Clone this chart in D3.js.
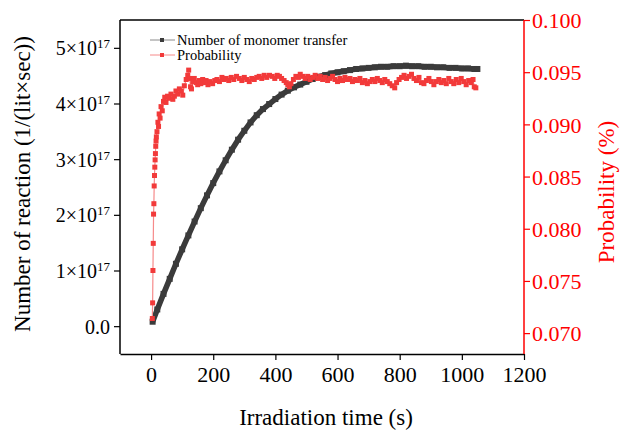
<!DOCTYPE html>
<html>
<head>
<meta charset="utf-8">
<script src="https://cdn.jsdelivr.net/npm/d3@7/dist/d3.min.js"></script>
<style>
  html, body { margin: 0; padding: 0; background: #fff; }
  svg { display: block; }
  text { font-family: "Liberation Serif", "Times New Roman", serif; }
</style>
</head>
<body>
<svg id="chart" width="620" height="433"></svg>
<script>
// ---------- data ----------
const xTicks = [0, 200, 400, 600, 800, 1000, 1200];
const leftTicks = [0, 1e17, 2e17, 3e17, 4e17, 5e17];
const leftTickMantissa = ["0.0", "1", "2", "3", "4", "5"];
const rightTicks = [0.070, 0.075, 0.080, 0.085, 0.090, 0.095, 0.100];

const seriesNames = ["Number of monomer transfer", "Probability"];

// Number of monomer transfer (1/(lit×sec)), in units of 1e17
const monoT = [5, 20, 40, 60, 80, 100, 120, 140, 160, 180, 200, 220, 240, 260, 280, 300,
  320, 340, 360, 380, 400, 420, 440, 460, 480, 500, 520, 540, 560, 580, 600, 620, 640,
  660, 680, 700, 720, 740, 760, 780, 800, 820, 840, 860, 880, 900, 920, 940, 960, 980,
  1000, 1020, 1040, 1050];
const monoV = [0.08, 0.30, 0.58, 0.85, 1.12, 1.38, 1.63, 1.88, 2.12, 2.35, 2.57, 2.78,
  2.98, 3.17, 3.35, 3.51, 3.66, 3.79, 3.90, 3.99, 4.08, 4.16, 4.23, 4.29, 4.34, 4.39,
  4.44, 4.48, 4.51, 4.54, 4.56, 4.58, 4.60, 4.62, 4.63, 4.64, 4.65, 4.66, 4.66, 4.67,
  4.67, 4.68, 4.67, 4.67, 4.66, 4.66, 4.65, 4.65, 4.64, 4.64, 4.63, 4.63, 4.62, 4.62];

// Probability (%)
const probT = [4, 5, 6, 7, 8, 9, 10, 11, 12, 13, 14, 15, 16, 17, 19, 22, 24, 26, 29, 32,
  36, 40, 44, 48, 53, 58, 64, 70, 75, 80, 86, 91, 97, 102, 107, 113, 118, 121, 124, 127,
  130, 134, 139, 145, 150, 155, 160, 166, 172, 177, 183, 190, 198, 205, 212, 220, 228,
  235, 242, 250, 258, 266, 275, 284, 292, 300, 308, 316, 324, 332, 340, 348, 356, 364,
  372, 381, 390, 398, 406, 413, 420, 428, 435, 440, 445, 450, 458, 466, 474, 480, 488,
  496, 504, 512, 520, 528, 536, 544, 552, 560, 568, 576, 584, 592, 600, 608, 616, 624,
  632, 640, 648, 656, 664, 672, 680, 688, 696, 704, 712, 720, 728, 736, 744, 752, 760,
  768, 776, 784, 790, 798, 806, 814, 822, 830, 838, 846, 854, 862, 870, 878, 886, 894,
  902, 910, 918, 926, 934, 942, 950, 958, 966, 974, 982, 990, 998, 1006, 1014, 1022,
  1030, 1036, 1040, 1045];
const probV = [0.0714, 0.0729, 0.0760, 0.0786, 0.0814, 0.0824, 0.0841, 0.0851, 0.0859,
  0.0866, 0.0872, 0.0879, 0.0884, 0.0888, 0.0893, 0.0902, 0.0898, 0.0910, 0.0906, 0.0917,
  0.0913, 0.0922, 0.0926, 0.0921, 0.0927, 0.0925, 0.0929, 0.0924, 0.0927, 0.0932, 0.0929,
  0.0934, 0.0932, 0.0928, 0.0937, 0.0943, 0.0947, 0.0952, 0.0944, 0.0936, 0.0934, 0.0941,
  0.0944, 0.0940, 0.0938, 0.0942, 0.0939, 0.0943, 0.0940, 0.0942, 0.0938, 0.0941, 0.0939,
  0.0942, 0.0943, 0.0941, 0.0945, 0.0943, 0.0944, 0.0942, 0.0945, 0.0943, 0.0946, 0.0944,
  0.0942, 0.0945, 0.0943, 0.0941, 0.0944, 0.0943, 0.0945, 0.0946, 0.0944, 0.0947, 0.0945,
  0.0947, 0.0946, 0.0944, 0.0947, 0.0946, 0.0944, 0.0942, 0.0940, 0.0938, 0.0936, 0.0939,
  0.0943, 0.0946, 0.0945, 0.0948, 0.0946, 0.0944, 0.0946, 0.0943, 0.0945, 0.0947, 0.0944,
  0.0946, 0.0943, 0.0945, 0.0942, 0.0944, 0.0946, 0.0943, 0.0941, 0.0944, 0.0942, 0.0945,
  0.0943, 0.0944, 0.0941, 0.0943, 0.0942, 0.0944, 0.0940, 0.0942, 0.0939, 0.0941, 0.0943,
  0.0941, 0.0944, 0.0942, 0.0940, 0.0943, 0.0941, 0.0939, 0.0937, 0.0935, 0.0940, 0.0943,
  0.0945, 0.0947, 0.0944, 0.0946, 0.0948, 0.0944, 0.0942, 0.0945, 0.0940, 0.0939, 0.0942,
  0.0944, 0.0941, 0.0938, 0.0941, 0.0943, 0.0940, 0.0942, 0.0939, 0.0944, 0.0941, 0.0939,
  0.0943, 0.0940, 0.0944, 0.0941, 0.0938, 0.0942, 0.0940, 0.0943, 0.0936, 0.0935];

// ---------- layout ----------
const svg = d3.select("#chart");
const L = 120, R = 524, T = 20, B = 354;
const black = "#3b3b3b", redMark = "#f23a3a", axisRed = "#ff0000";
const fontF = '"Liberation Serif", "Times New Roman", serif';

const x = d3.scaleLinear().domain([-100, 1200]).range([L, R]);
const yL = d3.scaleLinear().domain([-0.5e17, 5.5e17]).range([B, T]);
const yR = d3.scaleLinear().domain([0.068, 0.100]).range([B, T]);

// ---------- data marks ----------
const monoData = monoT.map((t, i) => ({ t, v: monoV[i] * 1e17 }));
const probData = probT.map((t, i) => ({ t, v: probV[i] }));

const gData = svg.append("g");
gData.append("path")
  .datum(monoData)
  .attr("fill", "none")
  .attr("stroke", black)
  .attr("stroke-width", 5.5)
  .attr("stroke-linejoin", "round")
  .attr("d", d3.line().x(d => x(d.t)).y(d => yL(d.v)));
gData.selectAll("rect.mono").data(monoData).join("rect")
  .attr("class", "mono")
  .attr("x", d => x(d.t) - 3).attr("y", d => yL(d.v) - 3)
  .attr("width", 6).attr("height", 6)
  .attr("fill", black);

gData.append("path")
  .datum(probData)
  .attr("fill", "none")
  .attr("stroke", "#f68a8a")
  .attr("stroke-width", 1.2)
  .attr("d", d3.line().x(d => x(d.t)).y(d => yR(d.v)));
gData.selectAll("rect.prob").data(probData).join("rect")
  .attr("class", "prob")
  .attr("x", d => x(d.t) - 2.5).attr("y", d => yR(d.v) - 2.5)
  .attr("width", 5).attr("height", 5)
  .attr("fill", redMark);

// ---------- axes ----------
// top border
svg.append("line").attr("x1", L).attr("x2", R).attr("y1", T).attr("y2", T)
  .attr("stroke", "#000").attr("stroke-width", 1.5);

// bottom axis
const gx = svg.append("g").attr("transform", `translate(0,${B})`)
  .call(d3.axisBottom(x).tickValues(xTicks).tickSize(6).tickSizeOuter(0).tickFormat(d3.format("d")));
gx.select(".domain").attr("stroke", "#000").attr("stroke-width", 1.5);
gx.selectAll(".tick line").attr("stroke", "#000").attr("stroke-width", 1.2);
gx.selectAll(".tick text").attr("dy", null).attr("y", 28)
  .attr("font-family", fontF).attr("font-size", 22).attr("fill", "#000");

// left axis
const gl = svg.append("g").attr("transform", `translate(${L},0)`)
  .call(d3.axisLeft(yL).tickValues(leftTicks).tickSize(6).tickSizeOuter(0).tickFormat(() => ""));
gl.select(".domain").attr("stroke", "#000").attr("stroke-width", 1.5)
  .attr("d", `M0,${B}V${T}`);
gl.selectAll(".tick line").attr("stroke", "#000").attr("stroke-width", 1.2);
gl.selectAll(".tick").each(function(d, i) {
  const t = d3.select(this).select("text");
  t.text(null).attr("x", -10).attr("dy", "0.35em")
    .attr("font-family", fontF).attr("font-size", 20).attr("fill", "#000")
    .attr("text-anchor", "end");
  if (d === 0) {
    t.append("tspan").text(leftTickMantissa[i]);
  } else {
    t.append("tspan").text(leftTickMantissa[i] + "×10");
    t.append("tspan").attr("font-size", 13).attr("dy", "-0.55em").text("17");
  }
});

// right axis
const gr = svg.append("g").attr("transform", `translate(${R},0)`)
  .call(d3.axisRight(yR).tickValues(rightTicks).tickSize(6).tickSizeOuter(0).tickFormat(d3.format(".3f")));
gr.select(".domain").attr("stroke", axisRed).attr("stroke-width", 1.5)
  .attr("d", `M0,${B}V${T}`);
gr.selectAll(".tick line").attr("stroke", axisRed).attr("stroke-width", 1.2);
gr.selectAll(".tick text").attr("x", 8).attr("dy", "0.35em")
  .attr("font-family", fontF).attr("font-size", 22).attr("fill", axisRed);

// ---------- titles ----------
svg.append("text").attr("x", 326).attr("y", 425).attr("text-anchor", "middle")
  .attr("font-size", 23).attr("fill", "#000").text("Irradiation time (s)");
svg.append("text").attr("transform", "translate(30,184) rotate(-90)")
  .attr("text-anchor", "middle").attr("font-size", 23).attr("fill", "#000")
  .text("Number of reaction (1/(lit×sec))");
svg.append("text").attr("transform", "translate(614,192) rotate(-90)")
  .attr("text-anchor", "middle").attr("font-size", 23).attr("fill", axisRed)
  .text("Probability (%)");

// ---------- legend ----------
const legend = [
  { name: seriesNames[0], line: "#8a8a8a", mark: black, y: 40 },
  { name: seriesNames[1], line: "#f68a8a", mark: redMark, y: 55 }
];
const gLeg = svg.append("g");
legend.forEach(e => {
  gLeg.append("line").attr("x1", 150).attr("x2", 175).attr("y1", e.y).attr("y2", e.y)
    .attr("stroke", e.line).attr("stroke-width", 1);
  gLeg.append("rect").attr("x", 160).attr("y", e.y - 2).attr("width", 4).attr("height", 4)
    .attr("fill", e.mark);
  gLeg.append("text").attr("x", 177).attr("y", e.y + 5).attr("font-size", 14.5)
    .attr("fill", "#000").text(e.name);
});
</script>
</body>
</html>
